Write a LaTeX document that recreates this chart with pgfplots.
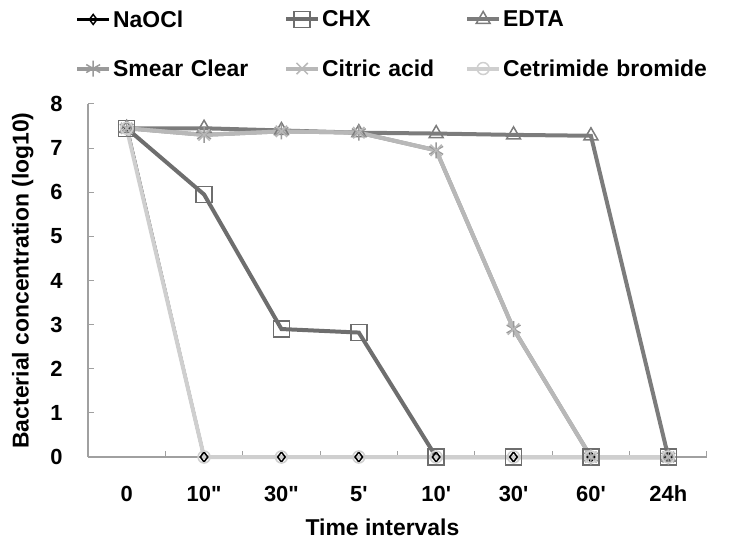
\documentclass[border=0pt]{standalone}
\usepackage{pgfplots}
\pgfplotsset{compat=1.18}
\usepackage{fontspec}
\setmainfont{Liberation Sans}[Ligatures=TeXOff]
\definecolor{cNa}{HTML}{000000}
\definecolor{cCHX}{HTML}{6E6E6E}
\definecolor{cEDTA}{HTML}{7C7C7C}
\definecolor{cSC}{HTML}{9A9A9A}
\definecolor{cCA}{HTML}{B8B8B8}
\definecolor{cCB}{HTML}{CFCFCF}
\definecolor{axgray}{HTML}{A0A0A0}
\begin{document}
\begin{tikzpicture}
\path[use as bounding box] (-88bp,-83bp) rectangle (641bp,457bp);
\begin{axis}[
  at={(0,0)}, anchor=south west,
  scale only axis, width=619bp, height=353bp,
  xmin=-0.5, xmax=7.5, ymin=0, ymax=8,
  axis lines*=left,
  axis line style={draw=axgray, line width=1.2bp},
  xtick={0,...,7},
  xticklabels={0,10",30",5',10',30',60',24h},
  major x tick style={draw=none},
  minor xtick={0.5,1.5,...,7.5},
  minor x tick style={draw=axgray, line width=1bp},
  minor tick length=6bp,
  ytick={0,...,8},
  major y tick style={draw=axgray, line width=1bp},
  major tick length=6bp,
  tick align=inside,
  /pgf/number format/assume math mode=true,
  ticklabel style={font=\fontsize{22}{24}\selectfont\bfseries},
  yticklabel style={xshift=-22bp},
  xticklabel style={anchor=base, yshift=-44bp},
  xlabel={Time intervals},
  ylabel={Bacterial concentration (log10)},
  label style={font=\fontsize{23}{26}\selectfont\bfseries},
  xlabel style={yshift=-11bp, xshift=-15bp},
  ylabel style={yshift=10bp},
  clip=false,
  legend columns=3,
  legend style={at={(axis description cs:0,1)}, anchor=west, xshift=-13bp, yshift=60bp,
    draw=none, fill=none, inner sep=0pt, row sep=27bp,
    font=\fontsize{23}{26}\selectfont\bfseries,
    /tikz/column 2/.style={text width=169bp, align=left},
    /tikz/column 4/.style={text width=141bp, align=left},
    /tikz/column 6/.style={text width=220bp, align=left},
    /tikz/every odd column/.append style={column sep=0pt},
  },
  legend cell align=left,
  legend image code/.code={%
    \draw[#1, mark repeat=2, mark phase=2] plot coordinates {(0bp,0bp) (16bp,0bp) (32bp,0bp)};},
]
\addplot[cNa, line width=3bp, mark=diamond, mark size=5bp, mark options={fill=white, line width=1.5bp}]
 coordinates {(0,7.5) (1,0) (2,0) (3,0) (4,0) (5,0) (6,0) (7,0)};
\addlegendentry{NaOCl}
\addplot[cCHX, line width=4bp, mark=square, mark size=8bp, mark options={fill=none, line width=1.5bp}]
 coordinates {(0,7.45) (1,5.95) (2,2.9) (3,2.82) (4,0) (5,0) (6,0) (7,0)};
\addlegendentry{CHX}
\addplot[cEDTA, line width=4bp, mark=triangle, mark size=8bp, mark options={fill=none, line width=1.5bp}]
 coordinates {(0,7.45) (1,7.45) (2,7.4) (3,7.35) (4,7.33) (5,7.3) (6,7.28) (7,0)};
\addlegendentry{EDTA}
\addplot[cSC, line width=4bp, mark=asterisk, mark size=8bp, mark options={line width=1.5bp}]
 coordinates {(0,7.45) (1,7.3) (2,7.38) (3,7.35) (4,6.95) (5,2.9) (6,0) (7,0)};
\addlegendentry{Smear Clear}
\addplot[cCA, line width=4bp, mark=x, mark size=8bp, mark options={line width=1.5bp}]
 coordinates {(0,7.45) (1,7.3) (2,7.38) (3,7.35) (4,6.95) (5,2.9) (6,0) (7,0)};
\addlegendentry{Citric acid}
\addplot[cCB, line width=4bp, mark=o, mark size=6bp, mark options={fill=none, line width=1.5bp}]
 coordinates {(0,7.45) (1,0) (2,0) (3,0) (4,0) (5,0) (6,0) (7,0)};
\addlegendentry{Cetrimide bromide}
\end{axis}
\end{tikzpicture}
\end{document}
